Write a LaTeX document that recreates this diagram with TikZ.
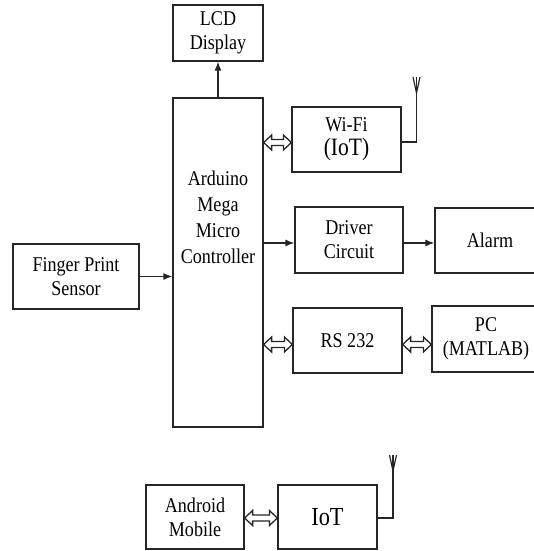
\documentclass[tikz,border=0pt]{standalone}
\usepackage{fontspec}
\setmainfont{Liberation Serif}[FakeStretch=0.86]
\usetikzlibrary{arrows.meta,calc}
\newcommand\dblarr[2]{\draw[dblshape] let \p1=#1, \p2=#2 in
  (\x1,\y1) -- (\x1+8pt,\y1+7.5pt) -- (\x1+8pt,\y1+3pt) -- (\x2-8pt,\y1+3pt) --
  (\x2-8pt,\y1+7.5pt) -- (\x2,\y1) -- (\x2-8pt,\y1-7.5pt) -- (\x2-8pt,\y1-3pt) --
  (\x1+8pt,\y1-3pt) -- (\x1+8pt,\y1-7.5pt) -- cycle;}
\begin{document}
\begin{tikzpicture}[x=1pt,y=-1pt,
  box/.style={draw=black!85, line width=1.2pt, inner sep=0pt, align=center,
              font=\fontsize{21}{24}\selectfont},
  lbl/.style={inner sep=0pt, align=center, font=\fontsize{21}{26}\selectfont},
  arr/.style={draw=black!85, line width=1.2pt, -{Latex[length=9pt,width=7pt]}},
  dblshape/.style={draw=black!85, line width=1.3pt, line join=miter, fill=white},
  ant/.style={draw=black!85, line width=1.2pt}]
\useasboundingbox (0,0) rectangle (534,551);
\clip (0,0) rectangle (534,551);

\node[box, minimum width=90pt, minimum height=56pt] (lcd) at (218,33) {LCD\\Display};
\node[box, minimum width=90pt, minimum height=329pt] (ard) at (218,262.5) {};
\node[lbl] (ardtxt) at (218,217) {Arduino\\Mega\\Micro\\Controller};
\node[box, minimum width=109pt, minimum height=65pt] (wifi) at (346.5,139.5)
  {Wi-Fi\\[0pt]{\fontsize{25}{28}\selectfont (IoT)}};
\node[box, minimum width=108pt, minimum height=66pt] (drv) at (349,240) {Driver\\Circuit};
\node[box, minimum width=110pt, minimum height=65pt] (alarm) at (490,240.5) {Alarm};
\node[box, minimum width=109pt, minimum height=65pt] (rs) at (347.5,340.5) {RS 232};
\node[box, minimum width=108pt, minimum height=66pt] (pc) at (486,339) {PC\\(MATLAB)};
\node[box, minimum width=126pt, minimum height=65pt] (fps) at (76,276.5) {Finger Print\\Sensor};
\node[box, minimum width=98pt, minimum height=64pt] (andr) at (195,517) {Android\\Mobile};
\node[box, minimum width=99pt, minimum height=64pt, font=\fontsize{26}{28}\selectfont] (iot) at (327.5,517) {IoT};

% single arrows
\draw[arr] (ard.north) -- (lcd.south);
\draw[arr] ([yshift=-3pt]ard.east |- drv.west) -- ([yshift=-3pt]drv.west);
\draw[arr] ([yshift=-3pt]drv.east) -- ([yshift=-3pt]drv.east -| alarm.west);
\draw[arr] (fps.east) -- (fps.east -| ard.west);

% double arrows
\dblarr{([yshift=-3pt]ard.east |- wifi.west)}{([yshift=-3pt]wifi.west)}
\dblarr{([yshift=-4pt]ard.east |- rs.west)}{([yshift=-4pt]rs.west)}
\dblarr{([yshift=-4pt]rs.east)}{([yshift=-4pt]rs.east -| pc.west)}
\dblarr{([yshift=-1pt]andr.east)}{([yshift=-1pt]andr.east -| iot.west)}

% antennas
\coordinate (a1) at (416.5,77);
\draw[ant] ([yshift=-2.5pt]wifi.east) -- ([yshift=-2.5pt]wifi.east -| a1) -- (a1);
\draw[ant] (413,77) -- (416.5,93) -- (420,77);
\coordinate (a2) at (393,455);
\draw[ant] ([yshift=-1pt]iot.east) -- ([yshift=-1pt]iot.east -| a2) -- (a2);
\draw[ant] (389.5,455) -- (393,471) -- (396.5,455);
\end{tikzpicture}
\end{document}
